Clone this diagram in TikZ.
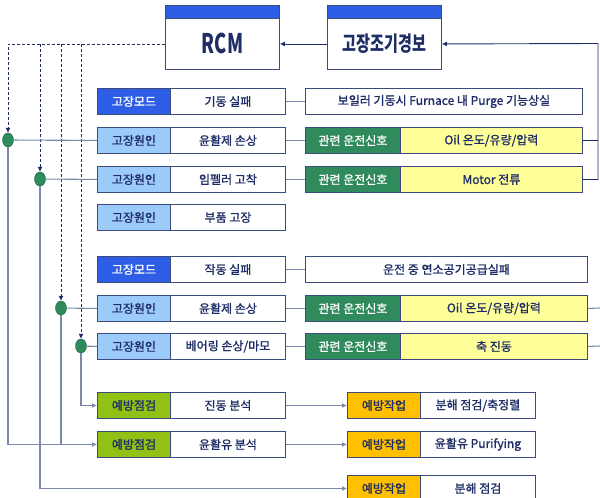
\documentclass[tikz,border=0pt]{standalone}
\usepackage{fontspec}
\setmainfont{Noto Sans CJK KR}
\newfontfamily\boxfont{Noto Sans CJK KR}[FakeBold=1.3]
\usetikzlibrary{arrows.meta,shapes.geometric}
\definecolor{navy}{HTML}{1F2D66}
\definecolor{bordc}{HTML}{3C4A7C}
\definecolor{modeblue}{HTML}{2E5EE6}
\definecolor{causeblue}{HTML}{9CCBFA}
\definecolor{siggreen}{HTML}{2F8A5C}
\definecolor{sigyellow}{HTML}{FFFF99}
\definecolor{insgreen}{HTML}{92C116}
\definecolor{workgold}{HTML}{FFC000}
\definecolor{linec}{HTML}{7B88AC}
\definecolor{dotc}{HTML}{2E8B5E}
\tikzset{
  bx/.style={draw=bordc, line width=0.9pt, rectangle, inner sep=0pt, anchor=north west,
    minimum height=26pt, font=\boxfont\fontsize{12}{14}\selectfont, text=navy},
  labw/.style={bx, minimum width=73pt},
  valw/.style={bx, fill=white, minimum width=115pt},
  modelab/.style={labw, fill=modeblue, text=white},
  causelab/.style={labw, fill=causeblue},
  siglab/.style={bx, fill=siggreen, text=white, minimum width=95pt},
  inslab/.style={labw, fill=insgreen},
  worklab/.style={labw, fill=workgold},
  topbox/.style={draw=bordc, line width=0.9pt, fill=white, rectangle, inner sep=0pt, anchor=north west,
    minimum width=114pt, minimum height=51pt, text=navy},
  topbar/.style={draw=bordc, line width=0.9pt, fill=modeblue, rectangle, inner sep=0pt, anchor=north west,
    minimum width=114pt, minimum height=13pt},
  dot/.style={ellipse, draw=dotc!70!black, fill=dotc, minimum width=11pt, minimum height=14pt, inner sep=0pt},
  conn/.style={draw=linec, line width=1.1pt},
  dconn/.style={draw=navy, line width=0.8pt, dash pattern=on 3pt off 2pt},
  tip/.style={-{Latex[length=5pt,width=5pt]}},
  darr/.style={draw=navy, line width=0.9pt},
}
\begin{document}
\begin{tikzpicture}[x=1pt,y=-1pt]
\useasboundingbox (0,0) rectangle (600,498);
\begin{scope}
\clip (0,0) rectangle (600,498);
% top boxes
\node[topbar] (rcmh) at (165,5) {};
\node[topbox] (rcm) at (165,18) {\bfseries\fontsize{27}{29}\selectfont\scalebox{0.68}[1]{RCM}};
\node[topbar] (gzh) at (327,5) {};
\node[topbox] (gz) at (327,18) {\bfseries\fontsize{21}{24}\selectfont\scalebox{0.72}[1]{고장조기경보}};

% row 1
\node[modelab] (m1) at (97,88) {고장모드};
\node[valw] (m1v) at (170,88) {기동 실패};
\node[bx, fill=white, minimum width=277pt] (m1d) at (305,88) {보일러 기동시 Furnace 내 Purge 기능상실};
% row 2
\node[causelab] (a1) at (97,127) {고장원인};
\node[valw] (a1v) at (170,127) {윤활제 손상};
\node[siglab] (s1) at (305,127) {관련 운전신호};
\node[bx, fill=sigyellow, minimum width=182pt] (s1v) at (400,127) {Oil 온도/유량/압력};
% row 3
\node[causelab] (a2) at (97,166) {고장원인};
\node[valw] (a2v) at (170,166) {임펠러 고착};
\node[siglab] (s2) at (305,166) {관련 운전신호};
\node[bx, fill=sigyellow, minimum width=182pt] (s2v) at (400,166) {Motor 전류};
% row 4
\node[causelab] (a3) at (97,204) {고장원인};
\node[valw] (a3v) at (170,204) {부품 고장};
% row 5
\node[modelab] (m2) at (97,256) {고장모드};
\node[valw] (m2v) at (170,256) {작동 실패};
\node[bx, fill=white, minimum width=282pt] (m2d) at (305,256) {운전 중 연소공기공급실패};
% row 6
\node[causelab] (a4) at (97,295) {고장원인};
\node[valw] (a4v) at (170,295) {윤활제 손상};
\node[siglab] (s3) at (305,295) {관련 운전신호};
\node[bx, fill=sigyellow, minimum width=187pt] (s3v) at (400,295) {Oil 온도/유량/압력};
% row 7
\node[causelab] (a5) at (97,333) {고장원인};
\node[valw] (a5v) at (170,333) {베어링 손상/마모};
\node[siglab] (s4) at (305,333) {관련 운전신호};
\node[bx, fill=sigyellow, minimum width=187pt] (s4v) at (400,333) {축 진동};
% row 8
\node[inslab] (p1) at (97,392) {예방점검};
\node[valw] (p1v) at (170,392) {진동 분석};
\node[worklab] (w1) at (347,392) {예방작업};
\node[valw] (w1v) at (420,392) {분해 점검/축정렬};
% row 9
\node[inslab] (p2) at (97,431) {예방점검};
\node[valw] (p2v) at (170,431) {윤활유 분석};
\node[worklab] (w2) at (347,431) {예방작업};
\node[valw] (w2v) at (420,431) {윤활유 Purifying};
% row 10
\node[worklab] (w3) at (347,475) {예방작업};
\node[valw] (w3v) at (420,475) {분해 점검};

% dots
\node[dot] (c1) at (8,140) {};
\node[dot] (c2) at (40,179) {};
\node[dot] (c3) at (61,308) {};
\node[dot] (c4) at (81,346) {};

% coordinates
\coordinate (rtop) at (598,43.5);
\coordinate (e6) at (600,308);
\coordinate (e7) at (600,346);

% top arrows
\draw[darr, tip] (gz.west) -- (rcm.east);
\draw[darr] (s1v.east) -- (s1v.east -| rtop);
\draw[darr, tip] (s2v.east) -- (s2v.east -| rtop) -- (rtop) -- (gz.east);

% dashed from RCM
\draw[dconn, tip] (rcm.west) -- (rcm.west -| c1) -- (c1.north);
\draw[dconn, tip] (rcm.west -| c2) -- (c2.north);
\draw[dconn, tip] (rcm.west -| c3) -- (c3.north);
\draw[dconn, tip] (rcm.west -| c4) -- (c4.north);

% stubs between columns
\draw[conn] (m1v.east) -- (m1d.west);
\draw[conn] (a1v.east) -- (s1.west);
\draw[conn] (a2v.east) -- (s2.west);
\draw[conn] (m2v.east) -- (m2d.west);
\draw[conn] (a4v.east) -- (s3.west);
\draw[conn] (a5v.east) -- (s4.west);
\draw[conn] (s3v.east) -- (e6);
\draw[conn] (s4v.east) -- (e7);

% dots to causes
\draw[conn] (c1) -- (a1.west);
\draw[conn] (c2) -- (a2.west);
\draw[conn] (c3) -- (a4.west);
\draw[conn] (c4) -- (a5.west);

% dots down to inspections / works
\draw[conn] (c3.south) -- (c3.south |- p2.west);
\draw[conn, tip] (c1.south) -- (c1.south |- p2.west) -- (p2.west);
\draw[conn, tip] (c4.south) -- (c4.south |- p1.west) -- (p1.west);
\draw[conn, tip] (c2.south) -- (c2.south |- w3.west) -- (w3.west);

% inspections to works
\draw[conn, tip] (p1v.east) -- (w1.west);
\draw[conn, tip] (p2v.east) -- (w2.west);
\end{scope}
\end{tikzpicture}
\end{document}
